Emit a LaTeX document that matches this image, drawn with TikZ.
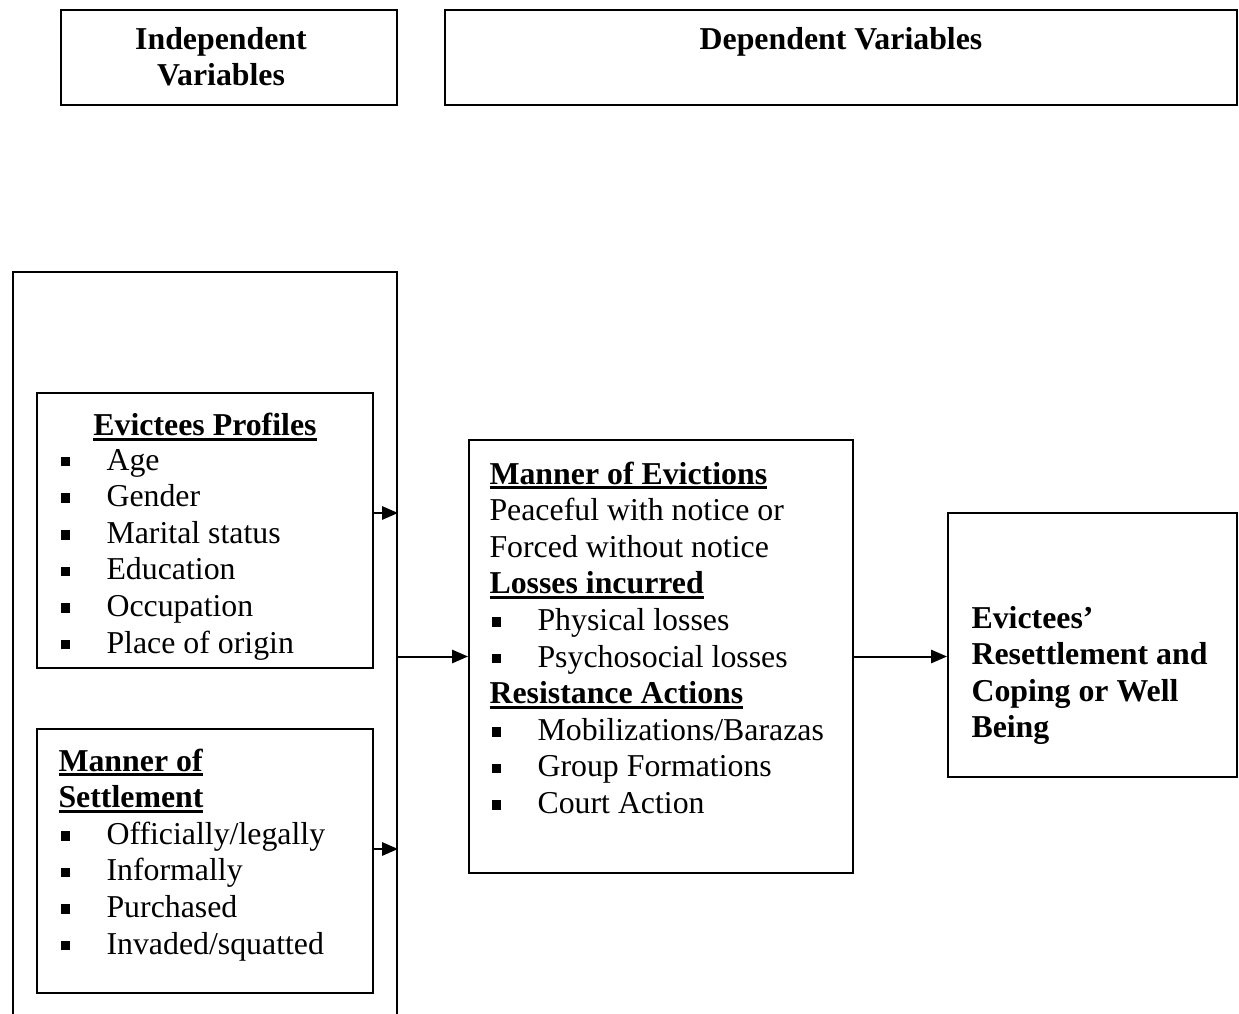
\documentclass[tikz,border=0pt]{standalone}
\usepackage{fontspec}
\setmainfont{Liberation Serif}
\usepackage{tikz}
\usetikzlibrary{arrows.meta,positioning,fit,calc}

% bullet and underlined heading
\newcommand\sqb{\rule[1.4pt]{3.6pt}{3.6pt}}
\newcommand\bl{\hspace*{0.8pt}\makebox[17.3pt][l]{\sqb}}
\newcommand\hd[1]{\setbox0\hbox{\bfseries #1}\rlap{\rule[-2pt]{\wd0}{1.1pt}}\box0}

\tikzset{
  box/.style={draw, line width=0.75pt, inner sep=0pt},
  arr/.style={-{Triangle[length=6pt,width=5pt]}, line width=0.75pt},
  txt/.style={anchor=base west, inner sep=0pt, font=\fontsize{12}{13.8}\selectfont},
}

\begin{document}
\begin{tikzpicture}[x=0.377pt, y=-0.377pt]
  \useasboundingbox (0,0) rectangle (1239,1014);

  % Header boxes
  \node[box, fit={(61,10) (397,105)}] (indepH) {};
  \node[box, fit={(445,10) (1237,105)}] (depH) {};
  \node[txt, anchor=base] (indepT) at (221,49)
    {\begin{tabular}[t]{@{}c@{}}\bfseries Independent\\ \bfseries Variables\end{tabular}};
  \node[txt, anchor=base] (depT) at (841,49) {\bfseries Dependent Variables};

  % Independent variables (outer box, open at the bottom)
  \node[box, fit={(13,272) (397,1100)}] (indep) {};
  \node[box, fit={(37,393) (373,668)}] (prof) {};
  \node[box, fit={(37,729) (373,993)}] (sett) {};

  \node[txt, anchor=base] (profT) at (205,435.5) {\hd{Evictees Profiles}};
  \node[txt] (profL) at (58,470)
    {\begin{tabular}[t]{@{}l@{}}
      \bl Age\\ \bl Gender\\ \bl Marital status\\ \bl Education\\
      \bl Occupation\\ \bl Place of origin
    \end{tabular}};
  \node[txt] (settL) at (58,771)
    {\begin{tabular}[t]{@{}l@{}}
      \hd{Manner of}\\ \hd{Settlement}\\ \bl Officially/legally\\
      \bl Informally\\ \bl Purchased\\ \bl Invaded/squatted
    \end{tabular}};

  % Intervening variables
  \node[box, fit={(469,440) (853,873)}] (man) {};
  \node[txt] (manL) at (489,484)
    {\begin{tabular}[t]{@{}l@{}}
      \hd{Manner of Evictions}\\ Peaceful with notice or\\ Forced without notice\\
      \hd{Losses incurred}\\ \bl Physical losses\\ \bl Psychosocial losses\\
      \hd{Resistance Actions}\\ \bl Mobilizations/Barazas\\ \bl Group Formations\\
      \bl Court Action
    \end{tabular}};

  % Dependent variable
  \node[box, fit={(948,513) (1237,777)}] (res) {};
  \node[txt] (resL) at (971,628)
    {\begin{tabular}[t]{@{}l@{}}
      \bfseries Evictees’\\ \bfseries Resettlement and\\ \bfseries Coping or Well\\ \bfseries Being
    \end{tabular}};

  % Arrows
  \draw[arr] (prof.east |- 0,513) -- (indep.east |- 0,513);
  \draw[arr] (sett.east |- 0,849) -- (indep.east |- 0,849);
  \draw[arr] (indep.east |- man.west) -- (man.west);
  \draw[arr] (man.east) -- (res.west |- man.east);
\end{tikzpicture}
\end{document}
